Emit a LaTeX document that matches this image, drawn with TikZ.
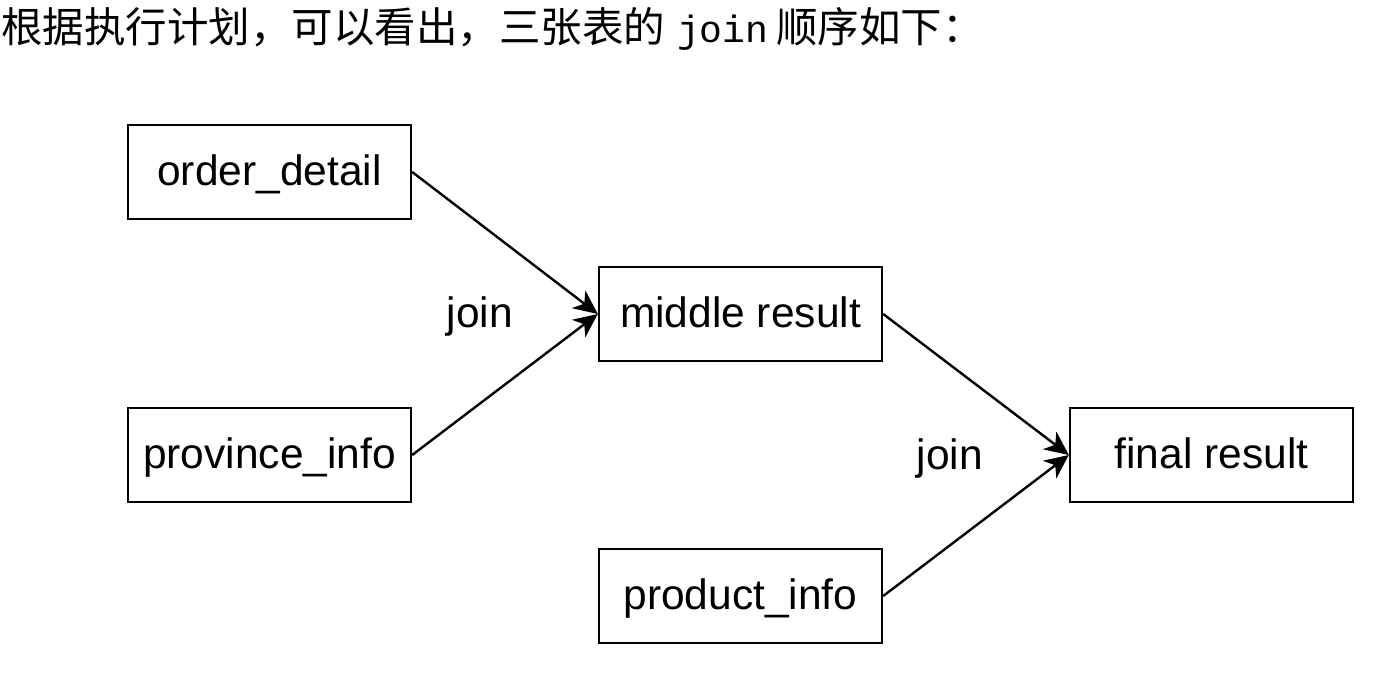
\documentclass[tikz,border=0pt]{standalone}
\usepackage{fontspec}
\setmainfont{Liberation Sans}
\newfontfamily\cjk{Noto Sans CJK SC}
\newfontfamily\monofam{Liberation Mono}
\usetikzlibrary{arrows.meta}
\begin{document}
\begin{tikzpicture}[x=1pt,y=-1pt,
  txt/.style={font=\fontsize{42.5}{50}\selectfont, text height=33pt, text depth=7pt},
  tbl/.style={txt, draw=black, line width=2.4pt, minimum width=283pt, minimum height=94pt, inner sep=0pt},
  lbl/.style={txt, inner sep=0pt},
  conn/.style={draw=black, line width=2.4pt, -{Stealth[length=24pt,width=22pt,inset=7pt]}}]
\useasboundingbox (0,0) rectangle (1382,693);
\node[anchor=base west, inner sep=0pt] (title) at (1,43)
  {\fontsize{41.5}{48}\selectfont\cjk 根据执行计划，可以看出，三张表的\hspace{12pt}{\monofam\fontsize{38}{44}\selectfont join}\hspace{8pt}顺序如下：};
\node[tbl] (od) at (269.5,172) {order\_detail};
\node[tbl] (pi) at (269.5,455) {province\_info};
\node[tbl] (mr) at (740.5,314) {middle result};
\node[tbl] (fr) at (1211.5,455) {final result};
\node[tbl] (pr) at (740.5,596) {product\_info};
\node[lbl] (j1) at (480,314) {join};
\node[lbl] (j2) at (950,456) {join};
\draw[conn] (od.east) -- (mr.west);
\draw[conn] (pi.east) -- (mr.west);
\draw[conn] (mr.east) -- (fr.west);
\draw[conn] (pr.east) -- (fr.west);
\end{tikzpicture}
\end{document}
